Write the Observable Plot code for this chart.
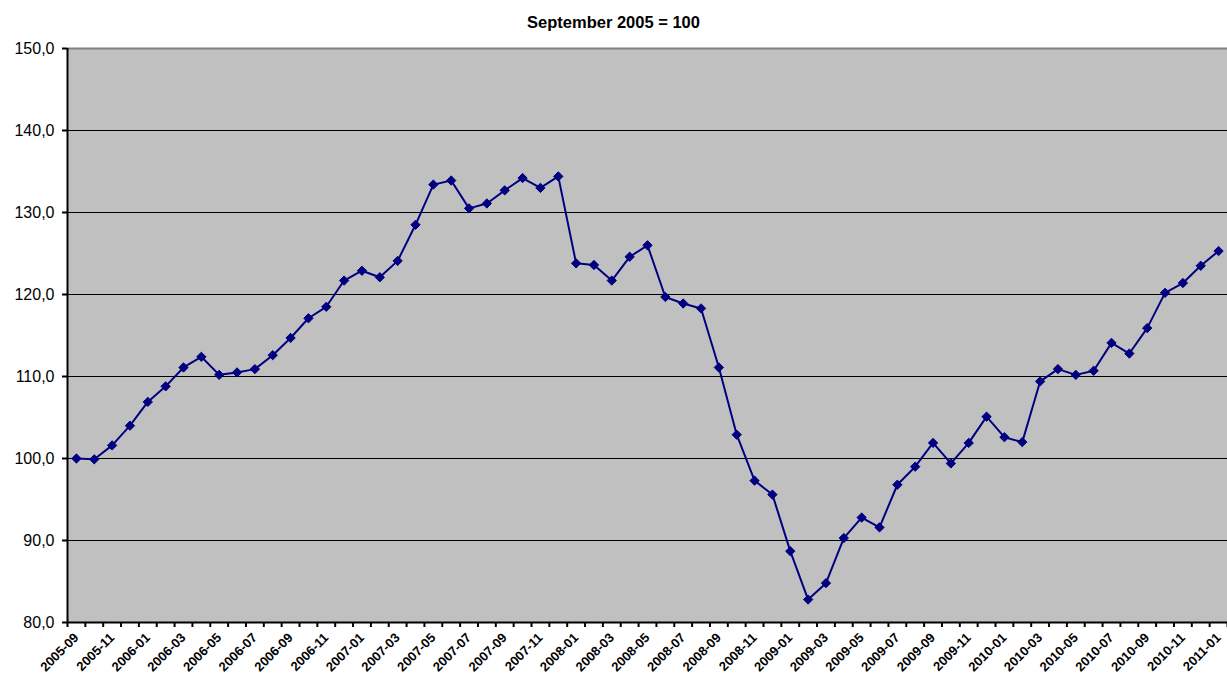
<!DOCTYPE html>
<html>
<head>
<meta charset="utf-8">
<script src="https://cdn.jsdelivr.net/npm/d3@7"></script>
<script src="https://cdn.jsdelivr.net/npm/@observablehq/plot@0.6"></script>
<style>
  html, body { margin: 0; padding: 0; background: #ffffff; }
  #title { width: 1227px; height: 44px; line-height: 44px; text-align: center;
    font-family: "Liberation Sans", Arial, sans-serif; font-weight: bold; font-size: 16.5px; color: #000; }
  #chart { width: 1227px; height: 633px; }
</style>
</head>
<body>
<div id="title">September 2005 = 100</div>
<div id="chart"></div>
<script>
const months = [
  "2005-09","2005-10","2005-11","2005-12",
  "2006-01","2006-02","2006-03","2006-04","2006-05","2006-06","2006-07","2006-08","2006-09","2006-10","2006-11","2006-12",
  "2007-01","2007-02","2007-03","2007-04","2007-05","2007-06","2007-07","2007-08","2007-09","2007-10","2007-11","2007-12",
  "2008-01","2008-02","2008-03","2008-04","2008-05","2008-06","2008-07","2008-08","2008-09","2008-10","2008-11","2008-12",
  "2009-01","2009-02","2009-03","2009-04","2009-05","2009-06","2009-07","2009-08","2009-09","2009-10","2009-11","2009-12",
  "2010-01","2010-02","2010-03","2010-04","2010-05","2010-06","2010-07","2010-08","2010-09","2010-10","2010-11","2010-12",
  "2011-01"
];
const values = [
  100.0, 99.9, 101.6, 104.0,
  106.9, 108.8, 111.1, 112.4, 110.2, 110.5, 110.9, 112.6, 114.7, 117.1, 118.5, 121.7,
  122.9, 122.1, 124.1, 128.5, 133.4, 133.9, 130.5, 131.1, 132.7, 134.2, 133.0, 134.4,
  123.8, 123.6, 121.7, 124.6, 126.0, 119.7, 118.9, 118.3, 111.1, 102.9, 97.3, 95.6,
  88.7, 82.8, 84.8, 90.3, 92.8, 91.6, 96.8, 99.0, 101.9, 99.4, 101.9, 105.1,
  102.6, 102.0, 109.4, 110.9, 110.2, 110.7, 114.1, 112.8, 115.9, 120.2, 121.4, 123.5,
  125.3
];
const yTicks = [80, 90, 100, 110, 120, 130, 140, 150];

const data = months.map((m, i) => ({i, m, v: values[i]}));
const n = months.length;
const boundaries = d3.range(n + 1).map(k => k - 0.5);
const labelIdx = d3.range(0, n, 2);
const fmt = d => d.toFixed(1).replace(".", ",");

const chart = Plot.plot({
  width: 1227,
  height: 633,
  marginLeft: 67,
  marginRight: 0,
  marginTop: 4,
  marginBottom: 55,
  style: {fontFamily: "'Liberation Sans', Arial, sans-serif", background: "#ffffff", overflow: "visible"},
  x: {type: "linear", domain: [-0.5, n - 0.5]},
  y: {domain: [yTicks[0], yTicks[yTicks.length - 1]]},
  marks: [
    Plot.frame({fill: "#c0c0c0", stroke: null}),
    Plot.ruleY(yTicks.slice(1, -1), {stroke: "#000000", strokeWidth: 1.2}),
    Plot.ruleY(yTicks.slice(-1), {stroke: "#808080", strokeWidth: 2}),
    Plot.ruleY(yTicks.slice(0, 1), {stroke: "#000000", strokeWidth: 2}),
    Plot.ruleX(boundaries.slice(0, 1), {stroke: "#000000", strokeWidth: 2}),
    Plot.axisY({ticks: yTicks, tickFormat: fmt, tickSize: 5, tickPadding: 8, fontSize: 16, label: null, stroke: "#000", strokeWidth: 2}),
    Plot.axisX({ticks: boundaries, tickFormat: () => "", tickSize: 5, label: null, stroke: "#000", strokeWidth: 2}),
    Plot.axisX({ticks: labelIdx, tickFormat: i => months[i], tickSize: 0, tickPadding: 13, tickRotate: -45, fontSize: 13, fontWeight: "bold", label: null}),
    Plot.line(data, {x: "i", y: "v", stroke: "#000080", strokeWidth: 2}),
    Plot.dot(data, {x: "i", y: "v", symbol: "diamond2", r: 4.2, fill: "#000080", stroke: "#000080", strokeWidth: 1})
  ]
});
document.getElementById("chart").appendChild(chart);
</script>
</body>
</html>
